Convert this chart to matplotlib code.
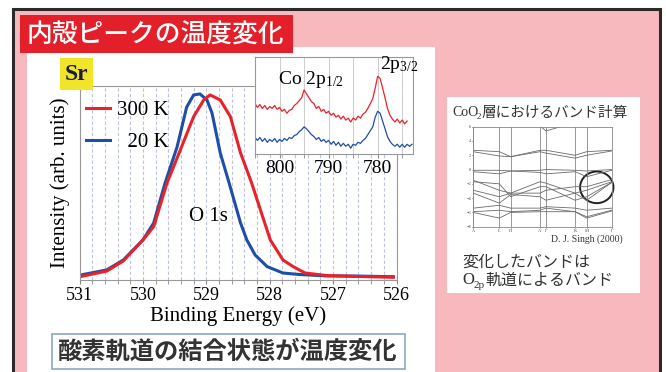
import matplotlib
matplotlib.use("Agg")
import matplotlib.pyplot as plt
from matplotlib.patches import Rectangle, Ellipse
from matplotlib.ticker import MultipleLocator

plt.rcParams['font.family'] = ['Liberation Serif', 'Noto Sans CJK JP']
plt.rcParams['mathtext.fontset'] = 'custom'
plt.rcParams['mathtext.rm'] = 'Liberation Serif'
plt.rcParams['mathtext.default'] = 'regular'

# ---- O 1s spectra (binding energy eV, normalised intensity) ----
e_20K = [530.98, 530.57, 530.31, 530.00, 529.83, 529.65, 529.46, 529.31, 529.20,
         529.10, 528.99, 528.91, 528.78, 528.64, 528.46, 528.36, 528.23, 528.04,
         527.79, 527.52, 527.10, 526.57, 526.05]
i_20K = [0.026, 0.052, 0.103, 0.206, 0.294, 0.500, 0.687, 0.891, 0.954,
         0.959, 0.928, 0.861, 0.655, 0.500, 0.294, 0.206, 0.129, 0.069,
         0.036, 0.028, 0.021, 0.020, 0.017]
e_300K = [530.98, 530.57, 530.31, 530.00, 529.83, 529.62, 529.41, 529.20, 529.04,
          528.94, 528.78, 528.62, 528.46, 528.29, 528.12, 527.99, 527.79, 527.62,
          527.44, 527.10, 526.57, 526.05]
i_300K = [0.018, 0.046, 0.098, 0.206, 0.275, 0.500, 0.670, 0.842, 0.928,
          0.954, 0.928, 0.842, 0.655, 0.505, 0.335, 0.206, 0.103, 0.067,
          0.036, 0.023, 0.018, 0.014]

# ---- Co 2p inset ----
e_co = [805.0, 804.5, 804.0, 803.5, 803.0, 802.5, 802.0, 801.5, 801.0, 800.5,
        800.0, 799.5, 799.0, 798.5, 798.0, 797.5, 797.0, 796.5, 796.0, 795.5,
        795.0, 794.5, 794.0, 793.5, 793.0, 792.5, 792.0, 791.5, 791.0, 790.5,
        790.0, 789.5, 789.0, 788.5, 788.0, 787.5, 787.0, 786.5, 786.0, 785.5,
        785.0, 784.5, 784.0, 783.5, 783.0, 782.5, 782.0, 781.5, 781.0, 780.5,
        780.0, 779.5, 779.0, 778.5, 778.0, 777.5, 777.0, 776.5, 776.0, 775.5,
        775.0, 774.5, 774.0, 773.5, 773.0]
co_300K = [0.52, 0.48, 0.51, 0.47, 0.50, 0.46, 0.49, 0.47, 0.50, 0.46,
           0.48, 0.44, 0.46, 0.42, 0.45, 0.46, 0.50, 0.52, 0.55, 0.58,
           0.66, 0.62, 0.58, 0.54, 0.52, 0.47, 0.49, 0.44, 0.46, 0.42,
           0.44, 0.40, 0.42, 0.38, 0.40, 0.36, 0.39, 0.35, 0.37, 0.33,
           0.37, 0.35, 0.39, 0.37, 0.41, 0.43, 0.47, 0.52, 0.57, 0.68,
           0.80, 0.78, 0.68, 0.58, 0.47, 0.40, 0.36, 0.33, 0.36, 0.32,
           0.35, 0.31, 0.34, None, None]
co_20K = [0.17, 0.14, 0.17, 0.13, 0.16, 0.12, 0.15, 0.13, 0.16, 0.12,
          0.15, 0.13, 0.16, 0.14, 0.17, 0.16, 0.19, 0.20, 0.23, 0.25,
          0.28, 0.26, 0.23, 0.20, 0.18, 0.15, 0.17, 0.13, 0.15, 0.12,
          0.14, 0.10, 0.13, 0.09, 0.12, 0.08, 0.11, 0.08, 0.10, 0.06,
          0.10, 0.09, 0.12, 0.11, 0.14, 0.16, 0.20, 0.24, 0.28, 0.38,
          0.44, 0.42, 0.34, 0.26, 0.18, 0.13, 0.10, 0.08, 0.10, 0.07,
          0.10, 0.07, 0.10, 0.08, 0.10]

# ---- CoO2 band structure (energies at high-symmetry points) ----
k_pos = [0.0, 0.188, 0.27, 0.482, 0.525, 0.735, 0.819, 1.0]
k_labels = ['A', 'L', 'H', 'A', 'Γ', 'K', 'M', 'Γ']
bands = [
    [6.6, 6.6, 6.6, 6.1, 5.4, 6.6, 6.6, 6.0],
    [2.7, 2.5, 1.8, 2.7, 2.7, 2.0, 2.5, 2.7],
    [2.5, 1.9, 1.8, 2.5, 2.3, 1.6, 2.0, 2.6],
    [-0.1, -0.1, -0.2, -0.1, 0.0, -0.1, -0.2, 0.0],
    [-0.3, -0.6, -0.2, -0.4, -0.6, -0.3, -1.0, -0.1],
    [-1.5, -2.9, -3.3, -1.7, -1.9, -3.3, -2.9, -1.7],
    [-1.7, -2.0, -3.8, -2.4, -2.4, -4.3, -3.8, -1.8],
    [-2.9, -3.8, -3.3, -3.3, -2.9, -2.4, -2.4, -1.4],
    [-3.3, -4.7, -3.5, -3.8, -4.3, -3.3, -4.3, -1.8],
    [-5.4, -5.0, -5.4, -5.4, -5.2, -5.4, -5.7, -5.4],
    [-5.9, -5.7, -5.9, -5.7, -5.4, -5.9, -6.6, -5.7],
    [-6.0, -6.8, -6.0, -5.9, -5.9, -5.9, -6.8, -5.8],
]

W, H = 666, 372
RED = '#e8222b'
BLUE = '#1f4ea6'
PINK = '#f8b9be'


def fr(x0, y0, x1, y1):
    return [x0 / W, 1 - y1 / H, (x1 - x0) / W, (y1 - y0) / H]


def pt(x, y):
    return (x / W, 1 - y / H)


fig = plt.figure(figsize=(6.66, 3.72), dpi=100)
fig.patch.set_facecolor('white')

# slide background
fig.add_artist(Rectangle(pt(12.5, 420), 647 / W, 411 / H, transform=fig.transFigure,
                         fc=PINK, ec='#2a2a2a', lw=2.2, zorder=-5))
fig.add_artist(Rectangle(pt(27, 380), 408 / W, 333 / H, transform=fig.transFigure,
                         fc='white', ec='none', zorder=-4))
fig.add_artist(Rectangle(pt(447, 293), 193 / W, 196 / H, transform=fig.transFigure,
                         fc='white', ec='none', zorder=-4))

# title
fig.add_artist(Rectangle(pt(20, 53), 273 / W, 38 / H, transform=fig.transFigure,
                         fc='#e3202a', ec='none', zorder=5))
fig.text(*pt(155, 35), '内殻ピークの温度変化', family='Noto Sans CJK JP', fontsize=18.5,
         fontweight='medium', color='white', ha='center', va='center', zorder=6)

# main O 1s plot
ax = fig.add_axes(fr(79.5, 86, 396.5, 280))
ax.set_facecolor('none')
l20, = ax.plot(e_20K, i_20K, color=BLUE, lw=2.2)
l300, = ax.plot(e_300K, i_300K, color=RED, lw=2.2)
ax.set_xlim(531, 526)
ax.set_ylim(0, 1)
ax.xaxis.set_major_locator(MultipleLocator(1))
ax.xaxis.set_minor_locator(MultipleLocator(0.2))
ax.tick_params(axis='x', which='both', direction='out', length=3, color='#888',
               labelsize=13, pad=2)
ax.set_yticks([])
ax.grid(True, which='both', axis='x', color='#bcc4e2', ls=(0, (3, 2)), lw=0.8)
for s in ax.spines.values():
    s.set_color('#999')
ax.set_xlabel('Binding Energy (eV)', fontsize=15, labelpad=2)
ax.set_ylabel('Intensity (arb. units)', fontsize=15, labelpad=7)
ax.text(528.97, 0.325, 'O 1s', fontsize=15, ha='center', va='center')
ax.legend([l300, l20], ['300 K', '  20 K'], loc='upper left', bbox_to_anchor=(0.02, 0.925),
          frameon=False, fontsize=15, handlelength=1.15, handletextpad=0.35,
          labelspacing=0.6, borderpad=0, borderaxespad=0)

# Sr label
fig.add_artist(Rectangle(pt(60, 90), 33 / W, 32 / H, transform=fig.transFigure,
                         fc='#f1e52c', ec='none', zorder=4))
fig.text(*pt(76.5, 74), 'Sr', fontsize=17, fontweight='bold', color='#1c1c3c',
         ha='center', va='center', zorder=5)

# Co 2p inset
ax2 = fig.add_axes(fr(255, 57, 413, 154), zorder=3)
ax2.set_facecolor('white')
ax2.plot(e_co, co_300K, color=RED, lw=0.9)
ax2.plot(e_co, co_20K, color=BLUE, lw=0.9)
ax2.set_xlim(805, 772.8)
ax2.set_ylim(0, 1)
ax2.xaxis.set_major_locator(MultipleLocator(10))
ax2.xaxis.set_minor_locator(MultipleLocator(5))
ax2.tick_params(axis='x', which='both', direction='out', length=3, color='#888',
                labelsize=14, pad=1)
ax2.set_yticks([])
ax2.grid(True, which='both', axis='x', color='#cccccc', lw=0.7)
for s in ax2.spines.values():
    s.set_color('#999')
ax2.text(0.354, 0.77, 'Co 2p$_{1/2}$', transform=ax2.transAxes, fontsize=14,
         ha='center', va='center')
ax2.text(0.911, 0.918, '2p$_{3/2}$', transform=ax2.transAxes, fontsize=14,
         ha='center', va='center', clip_on=False)

# band structure panel
fig.text(*pt(452, 113), 'CoO', fontsize=10, color='#333', va='center')
fig.text(*pt(477, 117), '2', fontsize=6.5, color='#333', va='center')
fig.text(*pt(481.5, 113), '層におけるバンド計算', family='Noto Sans CJK JP',
         fontsize=10.5, color='#333', va='center')

ax3 = fig.add_axes(fr(473.3, 126.7, 611.7, 226.7), zorder=3)
for b in bands:
    ax3.plot(k_pos, b, color='#6a6a6a', lw=0.6)
ax3.set_xlim(0, 1)
ax3.set_ylim(-8, 6)
ax3.set_xticks(k_pos)
ax3.set_xticklabels(k_labels)
ax3.set_yticks([6, 4, 2, 0, -2, -4, -6, -8])
ax3.tick_params(labelsize=3.2, length=1.0, pad=0.5, color='#777', labelcolor='#444')
ax3.grid(True, axis='x', color='#888', lw=0.6)
for s in ax3.spines.values():
    s.set_color('#888')
    s.set_linewidth(0.6)
ax3.add_patch(Ellipse((0.892, -2.49), 0.241, 4.43, fill=False, ec='#222', lw=1.4,
                      clip_on=False))
fig.text(*pt(623, 239), 'D. J. Singh (2000)', fontsize=7, color='#333',
         ha='right', va='center')

fig.text(*pt(462, 262), '変化したバンドは', family='Noto Sans CJK JP', fontsize=11.5,
         color='#333', va='center')
fig.text(*pt(462, 280), 'O', fontsize=12, color='#333', va='center')
fig.text(*pt(474, 285), '2p', fontsize=8, color='#333', va='center')
fig.text(*pt(485, 280), '軌道によるバンド', family='Noto Sans CJK JP', fontsize=11.5,
         color='#333', va='center')

# bottom caption box
fig.add_artist(Rectangle(pt(52, 369), 353 / W, 35 / H, transform=fig.transFigure,
                         fc='white', ec='#8ea6c4', lw=1.2, zorder=5))
fig.text(*pt(228, 352), '酸素軌道の結合状態が温度変化', family='Noto Sans CJK JP',
         fontsize=17.5, fontweight='bold', color='#333', ha='center', va='center',
         zorder=6)

fig.savefig('out.png', dpi=100)
